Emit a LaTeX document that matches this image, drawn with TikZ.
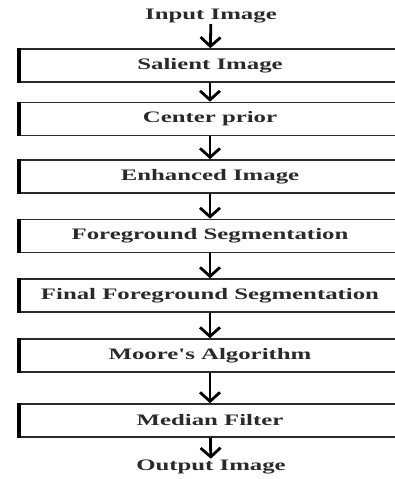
\documentclass[tikz,border=0pt]{standalone}
\usepackage{fontspec}
\setmainfont{Liberation Serif}
\usepackage{tikz}
\usetikzlibrary{arrows.meta,positioning}
\definecolor{boxline}{HTML}{2b2b2b}
\definecolor{darktext}{HTML}{2a2a2a}
\newcommand{\wide}[1]{\scalebox{1.55}[1]{#1}}

\begin{document}
\begin{tikzpicture}[x=1pt,y=-1pt,
  stagebox/.style={draw=boxline,line width=1.6pt,minimum width=380pt,minimum height=33pt,
    inner sep=0pt,font=\fontsize{16}{18}\selectfont\bfseries,text=darktext},
  endtext/.style={inner sep=1pt,font=\fontsize{16}{18}\selectfont\bfseries,text=darktext},
  flow/.style={line width=2.8pt,-{Straight Barb[length=9pt,width=20pt]}}]
  \clip (0,0) rectangle (395,479);
  % start and end
  \node[endtext] (input) at (211,16) {\wide{Input Image}};
  \node[endtext] (output) at (211,467) {\wide{Output Image}};
  % stages
  \node[stagebox] (salient) at (210,65.5) {\wide{Salient Image}};
  \node[stagebox] (center) at (210,119) {\wide{Center prior}};
  \node[stagebox] (enhanced) at (210,176.5) {\wide{Enhanced Image}};
  \node[stagebox] (fgseg) at (210,236) {\wide{Foreground Segmentation}};
  \node[stagebox] (finalseg) at (210,295.5) {\wide{Final Foreground Segmentation}};
  \node[stagebox] (moore) at (210,355.5) {\wide{Moore\textquotesingle s Algorithm}};
  \node[stagebox] (median) at (210,420.5) {\wide{Median Filter}};
  % heavy left edges
  \foreach \b in {salient,center,enhanced,fgseg,finalseg,moore,median}
    \draw[line width=3.5pt] (\b.north west) -- (\b.south west);
  % arrows
  \draw[flow] (input) -- (salient);
  \draw[flow] (salient) -- (center);
  \draw[flow] (center) -- (enhanced);
  \draw[flow] (enhanced) -- (fgseg);
  \draw[flow] (fgseg) -- (finalseg);
  \draw[flow] (finalseg) -- (moore);
  \draw[flow] (moore) -- (median);
  \draw[flow] (median) -- (output);
\end{tikzpicture}
\end{document}
